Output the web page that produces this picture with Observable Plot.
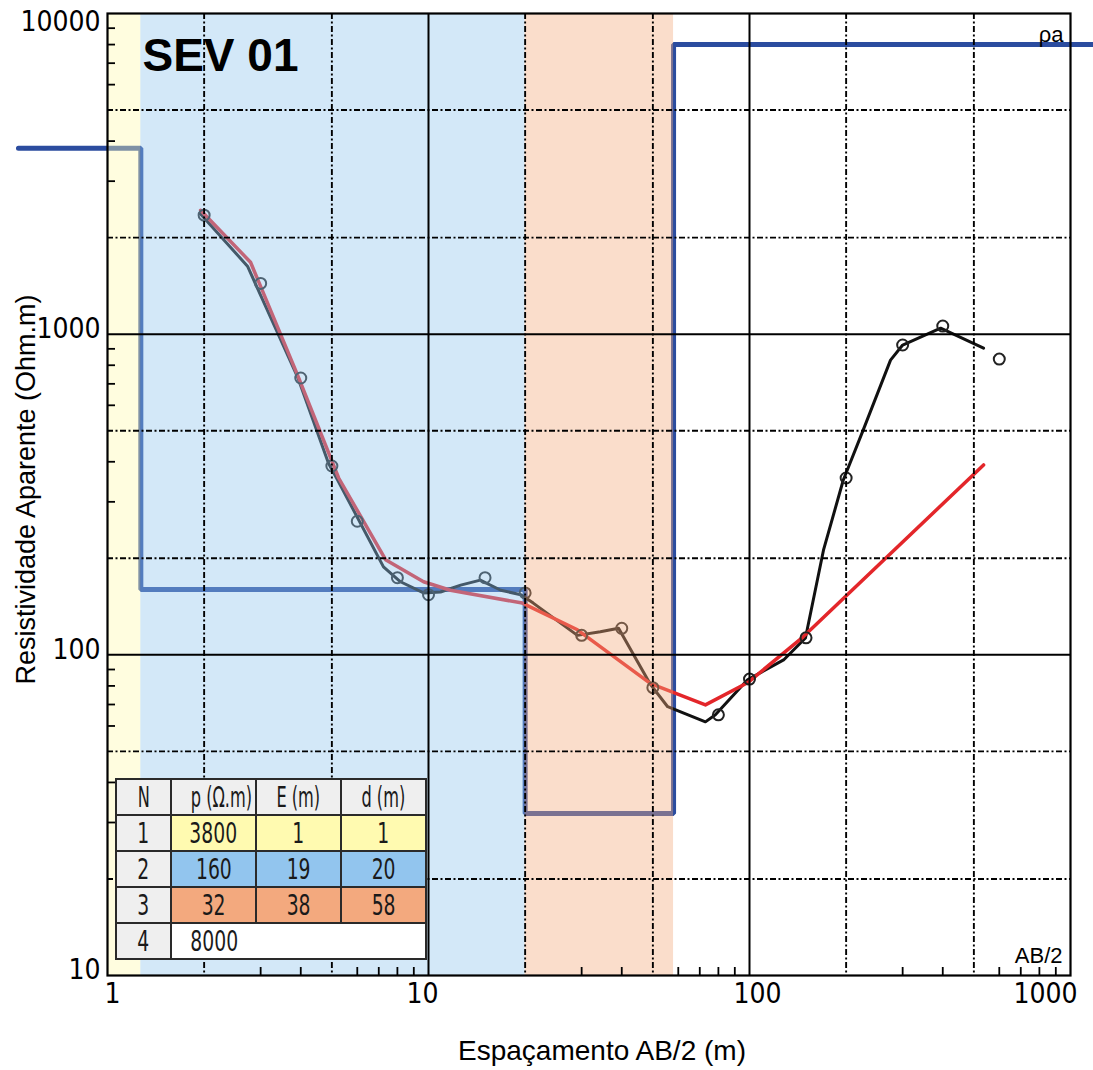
<!DOCTYPE html>
<html>
<head>
<meta charset="utf-8">
<script src="https://cdn.jsdelivr.net/npm/d3@7"></script>
<script src="https://cdn.jsdelivr.net/npm/@observablehq/plot@0.6"></script>
<style>
  body { margin: 0; background: #fff; }
  #wrap { position: relative; width: 1093px; height: 1070px; overflow: hidden; }
  #tbl {
    position: absolute; left: 115px; top: 778px;
    border-collapse: collapse; table-layout: fixed; width: 311px;
    font-family: "Liberation Sans Narrow", "DejaVu Sans Condensed", sans-serif;
    font-size: 29px; color: #1a1a1a;
    border: 2.5px solid #222;
  }
  #tbl td { border: 2px solid #2a2a2a; padding: 0; text-align: center; height: 34px; line-height: 30px; overflow: hidden; white-space: nowrap; }
  #tbl td span { display: inline-block; transform: scaleX(0.72); }
  #tbl tr.head td span { transform: scaleX(0.62); }
  #tbl tr:last-child td.v2 { border-right-style: hidden; }
  #tbl tr:last-child td.v3 { border-left-style: hidden; border-right-style: hidden; }
  #tbl tr:last-child td.v4 { border-left-style: hidden; }
</style>
</head>
<body>
<div id="wrap"></div>
<script>
// ---- data ----
// observed apparent resistivity (field points)
const obsAB2 = [2, 3, 4, 5, 6, 8, 10, 15, 20, 30, 40, 50, 80, 100, 150, 200, 300, 400, 600];
const obsRho = [2350, 1440, 730, 388, 261, 174, 154, 174, 156, 115, 121, 79, 65, 84, 113, 356, 925, 1060, 836];

// field curve (black)
const fieldAB2 = [1.94, 2.73, 3.91, 4.88, 5.21, 7.24, 8.18, 9.65, 10.9, 12.6, 14.5, 16.8, 19.4, 21.2, 29.1, 34.3, 39.1, 49.2, 55.6, 72.9, 78.3, 98.6, 127.7, 149.4, 170, 196, 226, 275, 300, 394, 536];
const fieldRho = [2382, 1629, 735, 396, 351, 188, 169, 156, 157, 165, 171, 159, 154, 145, 115, 118, 121, 80.7, 68.9, 61.8, 65, 83.6, 96.4, 112.9, 212, 351, 502, 830, 925, 1044, 904];

// model curve (red)
const modelAB2 = [1.95, 2.79, 3.91, 5.25, 7.35, 9.65, 11.7, 19.6, 29.1, 49.2, 72.9, 98.6, 147, 536];
const modelRho = [2434, 1676, 745, 356, 198, 169, 159, 145, 119.7, 81.3, 69.8, 81.8, 113.8, 391];

// layered model (table + step line)
const layerN = [1, 2, 3, 4];
const layerRho = [3800, 160, 32, 8000];
const layerE = [1, 19, 38, null];
const layerD = [1, 20, 58, null];
const layerColors = ["#fffab0", "#92c5ee", "#f3a97e", "#ffffff"];
const tableHeader = ["N", "p (Ω.m)", "E (m)", "d (m)"];

// step line x positions as drawn on the chart (left end, boundaries, right end)
const stepStartAB2 = 0.528;
const boundaryAB2 = [1.27, 20, 58];
const stepEndAB2 = 1180;

// axes / grid
const xLabelTicks = [1, 10, 100, 1000];
const yLabelTicks = [10, 100, 1000, 10000];
const gridSolidX = [10, 100];
const gridDashX = [2, 5, 20, 50, 200, 500];
const gridSolidY = [100, 1000];
const gridDashY = [20, 50, 200, 500, 2000, 5000];
const minorX = [3, 4, 6, 7, 8, 9, 30, 40, 60, 70, 80, 90, 300, 400, 600, 700, 800, 900];
const minorY = [30, 40, 60, 70, 80, 90, 300, 400, 600, 700, 800, 900, 3000, 4000, 6000, 7000, 8000, 9000];

// ---- derived tables ----
const obs = obsAB2.map((x, i) => ({x, y: obsRho[i]}));
const field = fieldAB2.map((x, i) => ({x, y: fieldRho[i]}));
const model = modelAB2.map((x, i) => ({x, y: modelRho[i]}));
const stepXs = [stepStartAB2, ...boundaryAB2, stepEndAB2];
const stepRhos = [...layerRho, layerRho[layerRho.length - 1]];
const step = stepXs.map((x, i) => ({x, y: stepRhos[i]}));
const bandEdges = [1, ...boundaryAB2];
const bands = boundaryAB2.map((b, i) => ({x1: bandEdges[i], x2: b, fill: layerColors[i]}));

const lineBlue = "#2b4c9f";
const dash = "6,2.5,2,2.5";
const fmt = d => String(d);
const narrow = "'Liberation Sans Narrow', 'DejaVu Sans Condensed', sans-serif";
const tickFont = {fontSize: 28, fontFamily: narrow, tickSize: 0, tickFormat: fmt, label: null};

const plot = Plot.plot({
  width: 1093,
  height: 1070,
  marginLeft: 107,
  marginRight: 23,
  marginTop: 13,
  marginBottom: 95,
  x: {type: "log", domain: [1, 1000], axis: null},
  y: {type: "log", domain: [10, 10000], axis: null},
  style: {fontFamily: "'Liberation Sans', Arial, Helvetica, sans-serif", fontSize: "21px", background: "white", color: "black", overflow: "visible"},
  marks: [
    Plot.line(step, {x: "x", y: "y", curve: "step-after", stroke: lineBlue, strokeWidth: 5, strokeLinejoin: "miter"}),
    Plot.line(field, {x: "x", y: "y", stroke: "#111", strokeWidth: 3}),
    Plot.line(model, {x: "x", y: "y", stroke: "#e3262a", strokeWidth: 3.5}),
    Plot.dot(obs, {x: "x", y: "y", r: 5.5, stroke: "#222", strokeWidth: 2, fill: "none"}),
    Plot.rect(bands, {x1: "x1", x2: "x2", fill: "fill", fillOpacity: 0.4}),
    Plot.ruleX(gridSolidX, {stroke: "black", strokeWidth: 2}),
    Plot.ruleX(gridDashX, {stroke: "black", strokeWidth: 1.9, strokeDasharray: dash}),
    Plot.ruleY(gridSolidY, {stroke: "black", strokeWidth: 2}),
    Plot.ruleY(gridDashY, {stroke: "black", strokeWidth: 1.9, strokeDasharray: dash}),
    Plot.axisX(minorX, {anchor: "bottom", tickSize: -8, fill: "none", stroke: "black", strokeWidth: 1.8, label: null}),
    Plot.axisY(minorY, {anchor: "left", tickSize: -8, fill: "none", stroke: "black", strokeWidth: 1.8, label: null}),
    Plot.frame({stroke: "black", strokeWidth: 2.2}),
    // tick labels
    Plot.axisY(yLabelTicks.slice(0, 3), {...tickFont, anchor: "left", tickPadding: 7, dy: -5}),
    Plot.axisY(yLabelTicks.slice(3), {...tickFont, anchor: "left", tickPadding: 7, dy: 9}),
    Plot.axisX(xLabelTicks.slice(0, 1), {...tickFont, anchor: "bottom", tickPadding: 8, dx: 5}),
    Plot.axisX(xLabelTicks.slice(1, 2), {...tickFont, anchor: "bottom", tickPadding: 8, dx: -6}),
    Plot.axisX(xLabelTicks.slice(2, 3), {...tickFont, anchor: "bottom", tickPadding: 8, dx: 8}),
    Plot.axisX(xLabelTicks.slice(3), {...tickFont, anchor: "bottom", tickPadding: 8, dx: -25}),
    // titles and annotations
    Plot.text(["Espaçamento AB/2 (m)"], {frameAnchor: "bottom", textAnchor: "middle", dx: 13, dy: 76, fontSize: 28, lineAnchor: "middle"}),
    Plot.text(["Resistividade Aparente (Ohm.m)"], {frameAnchor: "left", textAnchor: "middle", rotate: -90, dx: -81, dy: -5, fontSize: 27, lineAnchor: "middle"}),
    Plot.text(["SEV 01"], {frameAnchor: "top-left", textAnchor: "start", lineAnchor: "top", dx: 35, dy: 25, fontSize: 46, fontWeight: "bold"}),
    Plot.text(["ρa"], {frameAnchor: "top-right", textAnchor: "end", lineAnchor: "top", dx: -7, dy: 13, fontSize: 22}),
    Plot.text(["AB/2"], {frameAnchor: "bottom-right", textAnchor: "end", lineAnchor: "bottom", dx: -8, dy: -13, fontSize: 22})
  ]
});

const wrap = document.getElementById("wrap");
wrap.appendChild(plot);

// layer table
const tbl = document.createElement("table");
tbl.id = "tbl";
const colgroup = document.createElement("colgroup");
[55, 85, 85, 85].forEach(w => { const c = document.createElement("col"); c.style.width = w + "px"; colgroup.appendChild(c); });
tbl.appendChild(colgroup);
const rows = [tableHeader, ...layerN.map((n, i) => [n, layerRho[i], layerE[i], layerD[i]])];
rows.forEach((r, ri) => {
  const tr = document.createElement("tr");
  if (ri === 0) tr.className = "head";
  r.forEach((v, ci) => {
    const td = document.createElement("td");
    td.className = "v" + (ci + 1);
    const s = document.createElement("span");
    s.textContent = v == null ? "" : String(v);
    td.appendChild(s);
    td.style.background = (ri === 0 || ci === 0) ? "#efefef" : layerColors[ri - 1];
    tr.appendChild(td);
  });
  tbl.appendChild(tr);
});
wrap.appendChild(tbl);
</script>
</body>
</html>
